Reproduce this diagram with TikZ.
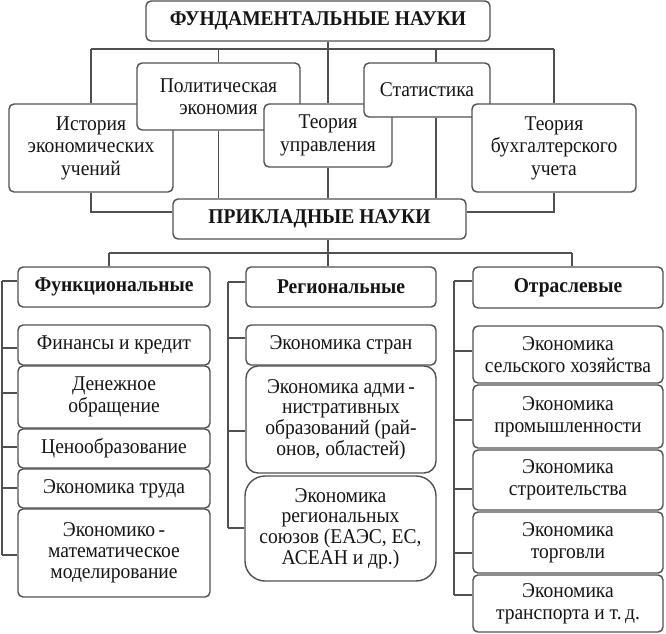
\documentclass[tikz,border=0pt]{standalone}
\usepackage{fontspec}
\setmainfont{Liberation Serif}[FakeStretch=0.93]
\usetikzlibrary{backgrounds}
\definecolor{linegray}{HTML}{505050}
\definecolor{txt}{HTML}{151515}
\newcommand{\fsz}{\fontsize{21}{22.4}\selectfont}
\newcommand{\fszt}{\fontsize{21}{20.8}\selectfont}
\begin{document}
\begin{tikzpicture}[x=1pt,y=-1pt,
  box/.style={draw=linegray, line width=1.4pt, rounded corners=5pt, fill=white,
    align=center, inner sep=0pt, font=\fsz, text=txt},
  conn/.style={draw=linegray, line width=1.3pt}]
\useasboundingbox (0,0) rectangle (666,633);
% fundamental
\node[box, minimum width=344pt, minimum height=40pt] (top) at (318,21) {\textbf{ФУНДАМЕНТАЛЬНЫЕ НАУКИ}};
\node[box, minimum width=164pt, minimum height=88pt] (hist) at (91,148) {История\\экономических\\учений};
\node[box, minimum width=163pt, minimum height=67pt] (polit) at (218.5,96.5) {Политическая\\экономия};
\node[box, minimum width=128pt, minimum height=63pt] (teor) at (328,135.5) {Теория\\управления};
\node[box, minimum width=126pt, minimum height=54pt] (stat) at (427,90) {Статистика};
\node[box, minimum width=164pt, minimum height=88pt] (buh) at (554,148) {Теория\\бухгалтерского\\учета};
\node[box, minimum width=293pt, minimum height=40pt] (prikl) at (319.5,219) {\textbf{ПРИКЛАДНЫЕ НАУКИ}};
% column 1
\node[box, minimum width=192pt, minimum height=40pt] (funk) at (114,287) {\textbf{Функциональные}};
\node[box, minimum width=192pt, minimum height=40pt] (fin) at (114,345) {Финансы и кредит};
\node[box, minimum width=192pt, minimum height=62pt] (den) at (114,397) {Денежное\\обращение};
\node[box, minimum width=192pt, minimum height=39pt] (cen) at (114,448.5) {Ценообразование};
\node[box, minimum width=192pt, minimum height=39pt] (trud) at (114,488.5) {Экономика труда};
\node[box, font=\fszt, minimum width=192pt, minimum height=88pt] (mat) at (114,553) {Экономико\,-\\математическое\\моделирование};
% column 2
\node[box, minimum width=190pt, minimum height=40pt] (reg) at (341,287) {\textbf{Региональные}};
\node[box, minimum width=190pt, minimum height=40pt] (str) at (341,345) {Экономика стран};
\node[box, font=\fszt, rounded corners=12pt, minimum width=190pt, minimum height=107pt] (adm) at (341,419.5) {Экономика адми\,-\\нистративных\\образований (рай-\\онов, областей)};
\node[box, font=\fszt, rounded corners=20pt, minimum width=191pt, minimum height=105pt] (soyuz) at (340.5,528.5) {Экономика\\региональных\\союзов (ЕАЭС, ЕС,\\АСЕАН и др.)};
% column 3
\node[box, minimum width=190pt, minimum height=41pt] (otr) at (568,287.5) {\textbf{Отраслевые}};
\node[box, minimum width=190pt, minimum height=57pt] (sel) at (568,354.5) {Экономика\\сельского хозяйства};
\node[box, minimum width=190pt, minimum height=63pt] (prom) at (568,416.5) {Экономика\\промышленности};
\node[box, minimum width=190pt, minimum height=60pt] (stroi) at (568,480) {Экономика\\строительства};
\node[box, minimum width=190pt, minimum height=61pt] (torg) at (568,542.5) {Экономика\\торговли};
\node[box, minimum width=190pt, minimum height=57pt] (trans) at (568,603.5) {Экономика\\транспорта и т.\,д.};
% helper coordinates
\coordinate (b1) at (0,49);
\coordinate (b2) at (0,212);
\coordinate (b3) at (0,253);
\coordinate (xs) at (436,0);
\coordinate (xl) at (109,0);
\coordinate (xr) at (572,0);
\begin{scope}[on background layer]
\fill[white] (0,0) rectangle (666,633);
\draw[conn] (b1 -| hist.north) -- (b1 -| buh.north);
\draw[conn] (b1 -| hist.north) -- (hist.north);
\draw[conn] (b1 -| polit.north) -- (polit.north);
\draw[conn] (top.south -| teor.north) -- (teor.north);
\draw[conn] (b1 -| xs) -- (stat.north -| xs);
\draw[conn] (b1 -| buh.north) -- (buh.north);
\draw[conn] (hist.south) |- (prikl.west |- b2);
\draw[conn] (polit.south) -- (polit.south |- prikl.north);
\draw[conn] (teor.south) -- (teor.south |- prikl.north);
\draw[conn] (stat.south -| xs) -- (prikl.north -| xs);
\draw[conn] (buh.south) |- (prikl.east |- b2);
\draw[conn] (prikl.south -| teor.south) -- (reg.north -| teor.south);
\draw[conn] (b3 -| xl) -- (b3 -| xr);
\draw[conn] (b3 -| xl) -- (funk.north -| xl);
\draw[conn] (b3 -| xr) -- (otr.north -| xr);
% brackets
\draw[conn] (2,281) -- (2,555);
\draw[conn] (2,281) -- (funk.west |- 0,281);
\draw[conn] (2,348) -- (fin.west |- 0,348);
\draw[conn] (2,393) -- (den.west |- 0,393);
\draw[conn] (2,447) -- (cen.west |- 0,447);
\draw[conn] (2,488) -- (trud.west |- 0,488);
\draw[conn] (2,555) -- (mat.west |- 0,555);
\draw[conn] (228,282) -- (228,528);
\draw[conn] (228,282) -- (reg.west |- 0,282);
\draw[conn] (228,338) -- (str.west |- 0,338);
\draw[conn] (228,431) -- (adm.west |- 0,431);
\draw[conn] (228,528) -- (soyuz.west |- 0,528);
\draw[conn] (454,281) -- (454,595);
\draw[conn] (454,281) -- (otr.west |- 0,281);
\draw[conn] (454,351) -- (sel.west |- 0,351);
\draw[conn] (454,420) -- (prom.west |- 0,420);
\draw[conn] (454,489) -- (stroi.west |- 0,489);
\draw[conn] (454,553) -- (torg.west |- 0,553);
\draw[conn] (454,595) -- (trans.west |- 0,595);
\end{scope}
\end{tikzpicture}
\end{document}
